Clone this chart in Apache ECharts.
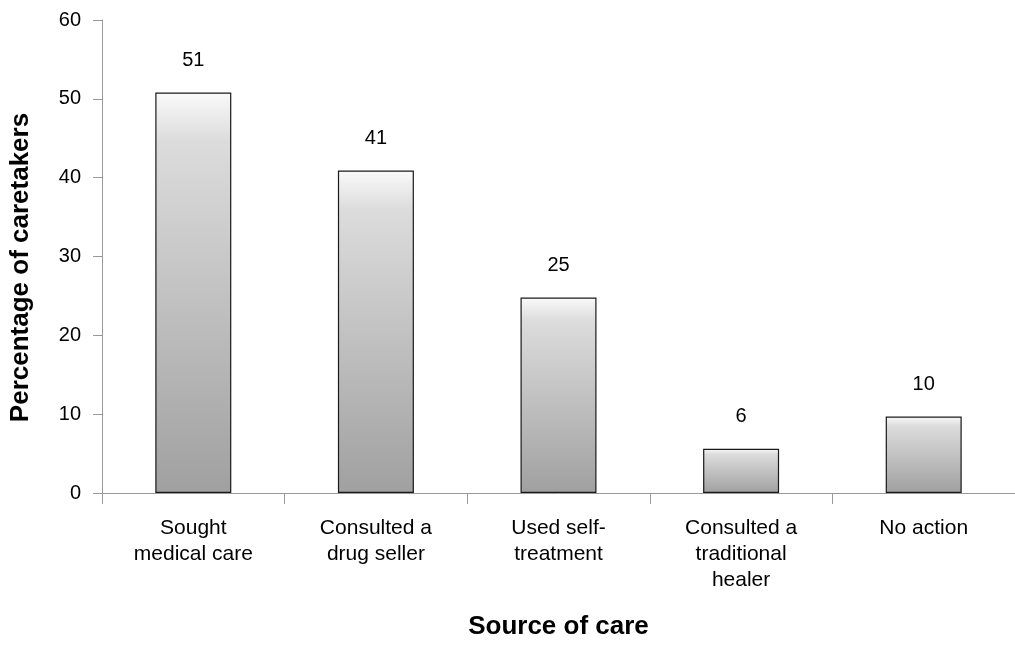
<!DOCTYPE html>
<html>
<head>
<meta charset="utf-8">
<script src="https://cdn.jsdelivr.net/npm/echarts@6/dist/echarts.min.js"></script>
<style>html,body{margin:0;padding:0;background:#fff;overflow:hidden}#c{width:1015px;height:645px}</style>
</head>
<body>
<div id="c"></div>
<script>
const categories = ['Sought\nmedical care', 'Consulted a\ndrug seller', 'Used self-\ntreatment', 'Consulted a\ntraditional\nhealer', 'No action'];
const values = [50.8, 40.9, 24.8, 5.6, 9.7];
const yTicks = { min: 0, max: 60, interval: 10 };

const FONT = 'Liberation Sans, Arial, sans-serif';
const chart = echarts.init(document.getElementById('c'), null, { renderer: 'canvas' });
chart.setOption({
  animation: false,
  grid: { left: 101, top: 20, width: 926, height: 477, containLabel: false },
  xAxis: {
    type: 'category',
    data: categories,
    name: 'Source of care',
    nameLocation: 'middle',
    nameGap: 121,
    nameTextStyle: { fontFamily: FONT, fontSize: 26, fontWeight: 'bold', color: '#000' },
    axisLine: { lineStyle: { color: '#999', width: 1 } },
    axisTick: { show: true, length: 11, lineStyle: { color: '#999' } },
    axisLabel: { interval: 0, fontFamily: FONT, fontSize: 21, color: '#000', lineHeight: 26, margin: 22 }
  },
  yAxis: {
    type: 'value',
    min: yTicks.min, max: yTicks.max, interval: yTicks.interval,
    name: 'Percentage of caretakers',
    nameLocation: 'middle',
    nameGap: 68,
    nameTextStyle: { fontFamily: FONT, fontSize: 26, fontWeight: 'bold', color: '#000', padding: [0, 22, 0, 0] },
    axisLine: { show: true, lineStyle: { color: '#999', width: 1 } },
    axisTick: { show: true, length: 9, lineStyle: { color: '#999' } },
    splitLine: { show: false },
    axisLabel: { fontFamily: FONT, fontSize: 20, color: '#000', margin: 21 }
  },
  series: [{
    type: 'bar',
    data: values,
    barWidth: 76,
    itemStyle: {
      color: new echarts.graphic.LinearGradient(0, 0, 0, 1, [
        { offset: 0, color: '#fafafa' },
        { offset: 0.12, color: '#dcdcdc' },
        { offset: 1, color: '#a0a0a0' }
      ]),
      borderColor: '#1a1a1a',
      borderWidth: 1.2
    },
    label: {
      show: true,
      position: 'top',
      distance: 22,
      fontFamily: FONT,
      fontSize: 20,
      color: '#000',
      formatter: p => Math.round(p.value).toString()
    }
  }]
});
</script>
</body>
</html>
